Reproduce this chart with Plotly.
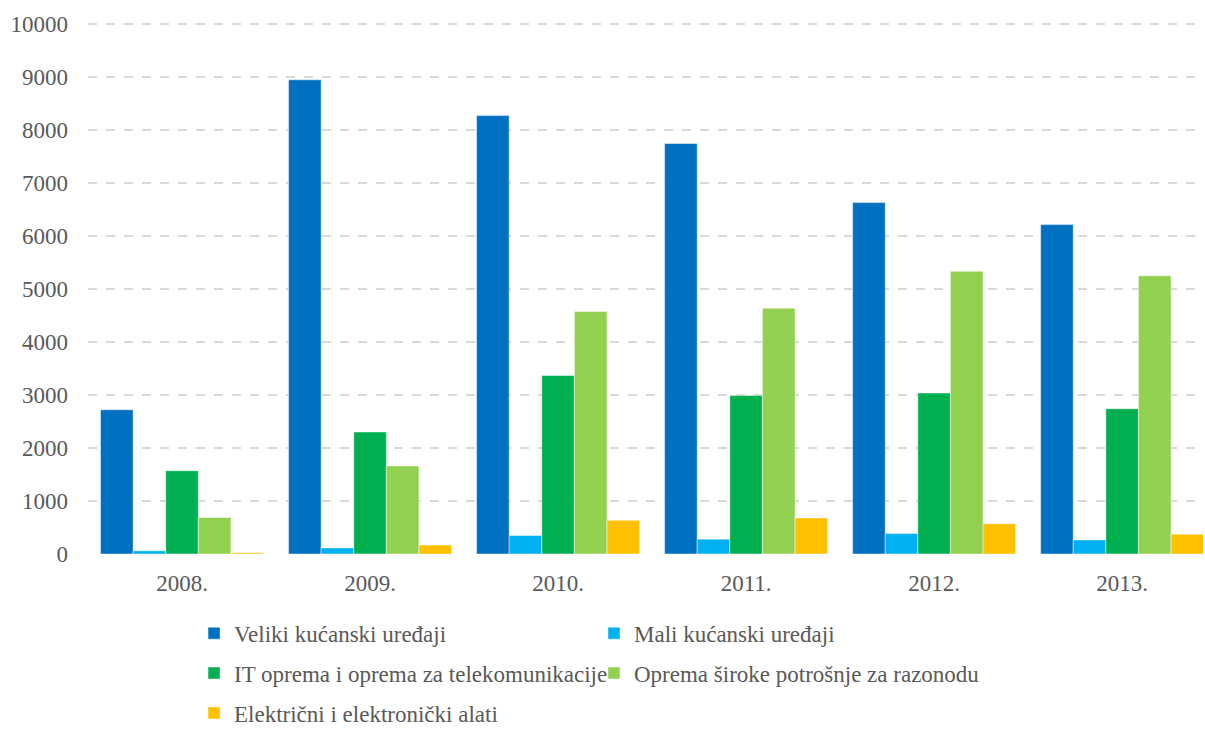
import plotly.graph_objects as go

years = ["2008.", "2009.", "2010.", "2011.", "2012.", "2013."]
series_names = [
    "Veliki kućanski uređaji",
    "Mali kućanski uređaji",
    "IT oprema i oprema za telekomunikacije",
    "Oprema široke potrošnje za razonodu",
    "Električni i elektronički alati",
]
veliki = [2720, 8940, 8265, 7740, 6625, 6210]
mali = [60, 115, 350, 280, 385, 265]
it_oprema = [1570, 2300, 3365, 2990, 3035, 2740]
razonoda = [690, 1660, 4570, 4635, 5330, 5245]
alati = [25, 170, 635, 680, 572, 372]
colors = ["#0070C0", "#00B0F0", "#00B050", "#92D050", "#FFC000"]
y_ticks = [0, 1000, 2000, 3000, 4000, 5000, 6000, 7000, 8000, 9000, 10000]
y_tick_labels = [str(v) for v in y_ticks]

values = [veliki, mali, it_oprema, razonoda, alati]
# column layout of the legend: left column / right column
legend_ids = ["legend", "legend2", "legend", "legend2", "legend"]

FONT = "Liberation Serif"
GREY = "#595959"
FS = 23

fig = go.Figure()
for i, (name, vals, col, lg) in enumerate(zip(series_names, values, colors, legend_ids)):
    fig.add_trace(go.Bar(
        x=years, y=vals, name=name,
        marker=dict(color=col, line=dict(color="rgba(255,255,255,0.6)", width=0.8)),
        legend=lg, legendgroup="g%d" % i,
    ))

legend_common = dict(
    orientation="v", xanchor="left", yanchor="top",
    font=dict(family=FONT, size=FS, color=GREY),
    bgcolor="rgba(0,0,0,0)", itemclick=False, itemdoubleclick=False,
    traceorder="grouped", tracegroupgap=7,
)

fig.update_layout(
    width=1205, height=729,
    margin=dict(l=88, r=2, t=22, b=175, autoexpand=False),
    paper_bgcolor="white", plot_bgcolor="white",
    barmode="group", bargap=0.133, bargroupgap=0,
    font=dict(family=FONT, size=FS, color=GREY),
    showlegend=True,
    legend=dict(x=0.0951, y=-0.1085, **legend_common),
    legend2=dict(x=0.4538, y=-0.1085, **legend_common),
    xaxis=dict(
        type="category", range=[-0.5, 5.43],
        showgrid=False, showline=False, zeroline=False,
        ticks="", ticklabelstandoff=13, automargin=False,
        tickfont=dict(family=FONT, size=FS, color=GREY),
    ),
    yaxis=dict(
        range=[0, 10030], tickvals=y_ticks, ticktext=y_tick_labels,
        showgrid=True, gridcolor="#D9D9D9", gridwidth=1.5, griddash="dash",
        zeroline=False, showline=False, ticks="",
        ticklabelstandoff=19, automargin=False,
        tickfont=dict(family=FONT, size=FS, color=GREY),
    ),
)

# remove the browser's default 8px body margin so the figure fills the window
fig.write_html(
    "out.html",
    config={"displayModeBar": False},
    post_script="document.body.style.margin='0';document.body.style.overflow='hidden';",
)
